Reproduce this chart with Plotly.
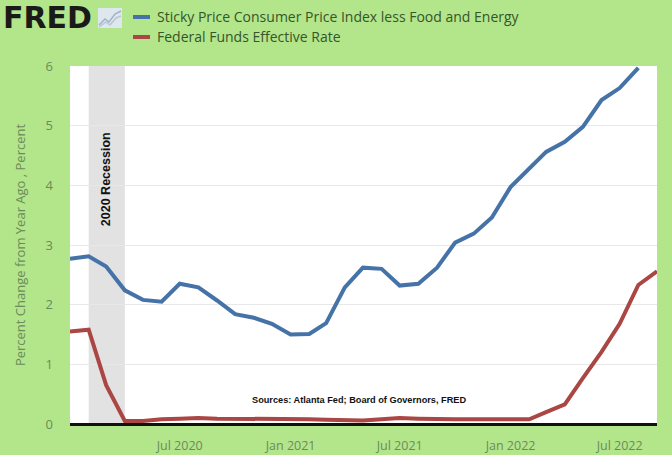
import plotly.graph_objects as go

months = ["2020-01-01","2020-02-01","2020-03-01","2020-04-01","2020-05-01","2020-06-01",
          "2020-07-01","2020-08-01","2020-09-01","2020-10-01","2020-11-01","2020-12-01",
          "2021-01-01","2021-02-01","2021-03-01","2021-04-01","2021-05-01","2021-06-01",
          "2021-07-01","2021-08-01","2021-09-01","2021-10-01","2021-11-01","2021-12-01",
          "2022-01-01","2022-02-01","2022-03-01","2022-04-01","2022-05-01","2022-06-01",
          "2022-07-01","2022-08-01","2022-09-01"]

sticky_cpi = [2.77, 2.81, 2.64, 2.24, 2.08, 2.05, 2.35, 2.29, 2.07, 1.84, 1.78, 1.68,
              1.50, 1.51, 1.69, 2.29, 2.62, 2.60, 2.32, 2.35, 2.62, 3.04, 3.19, 3.46,
              3.97, 4.28, 4.56, 4.73, 4.98, 5.43, 5.63, 5.97]

fed_funds = [1.55, 1.58, 0.65, 0.05, 0.05, 0.08, 0.09, 0.10, 0.09, 0.09, 0.09, 0.09,
             0.09, 0.08, 0.07, 0.07, 0.06, 0.08, 0.10, 0.09, 0.08, 0.08, 0.08, 0.08,
             0.08, 0.08, 0.20, 0.33, 0.77, 1.21, 1.68, 2.33, 2.56]

tick_vals = ["2020-07-01", "2021-01-01", "2021-07-01", "2022-01-01", "2022-07-01"]
tick_text = ["Jul 2020", "Jan 2021", "Jul 2021", "Jan 2022", "Jul 2022"]

recession = ("2020-02-01", "2020-04-01")

series_names = ["Sticky Price Consumer Price Index less Food and Energy",
                "Federal Funds Effective Rate"]
series_colors = ["#4572a7", "#aa4643"]

W, H = 672, 455
L, R, T, B = 70, 15, 66, 31
PW, PH = W - L - R, H - T - B

def px(x):
    return (x - L) / PW

def py(y):
    return (H - B - y) / PH

BG = "#b3e58b"
TICK = "#6a8c5a"

fig = go.Figure()
fig.add_trace(go.Scatter(x=months[:len(sticky_cpi)], y=sticky_cpi, mode="lines",
                         line=dict(color=series_colors[0], width=4), name=series_names[0]))
fig.add_trace(go.Scatter(x=months, y=fed_funds, mode="lines",
                         line=dict(color=series_colors[1], width=4), name=series_names[1]))

shapes = [dict(type="rect", xref="x", yref="paper", x0=recession[0], x1=recession[1],
               y0=0, y1=1, fillcolor="#e2e2e2", line=dict(width=0), layer="below")]
annotations = [
    dict(text="<b>2020 Recession</b>", textangle=-90, xref="x", yref="paper",
         x="2020-03-01", y=py(179), xanchor="center", yanchor="middle", showarrow=False,
         font=dict(family="Liberation Sans", size=12.5, color="#111111")),
    dict(text="<b>Sources: Atlanta Fed; Board of Governors, FRED</b>", xref="paper", yref="paper",
         x=px(359), y=py(400), xanchor="center", yanchor="middle", showarrow=False,
         font=dict(family="Liberation Sans", size=9.2, color="#111111")),
    dict(text="<b>FRED</b>", xref="paper", yref="paper", x=px(1), y=py(18), xanchor="left",
         yanchor="middle", showarrow=False,
         font=dict(family="DejaVu Sans", size=30, color="#1a1a1a")),
]
# legend
for i, (nm, col) in enumerate(zip(series_names, series_colors)):
    yy = 17 + 20 * i
    shapes.append(dict(type="line", xref="paper", yref="paper", x0=px(133), x1=px(150),
                       y0=py(yy), y1=py(yy), line=dict(color=col, width=4)))
    annotations.append(dict(text=nm, xref="paper", yref="paper", x=px(155), y=py(yy),
                            xanchor="left", yanchor="middle", showarrow=False,
                            font=dict(family="Open Sans", size=14, color="#35552a")))
# logo icon
shapes.append(dict(type="rect", xref="paper", yref="paper", x0=px(98), x1=px(122),
                   y0=py(28), y1=py(8), fillcolor="#dfe7ee", line=dict(width=0)))
shapes.append(dict(type="path", xref="paper", yref="paper",
                   path=f"M {px(99)},{py(25)} L {px(105)},{py(19)} L {px(109)},{py(22)} L {px(115)},{py(14)} L {px(121)},{py(11)}",
                   line=dict(color="#9fb3c8", width=1.5)))
shapes.append(dict(type="path", xref="paper", yref="paper",
                   path=f"M {px(99)},{py(27)} L {px(106)},{py(22)} L {px(110)},{py(25)} L {px(116)},{py(18)} L {px(121)},{py(16)}",
                   line=dict(color="#b8c6d6", width=1.5)))

fig.update_layout(
    width=W, height=H,
    margin=dict(l=L, r=R, t=T, b=B),
    paper_bgcolor=BG, plot_bgcolor="white",
    showlegend=False,
    shapes=shapes, annotations=annotations,
    font=dict(family="Open Sans", color=TICK),
    xaxis=dict(range=[months[0], months[-1]], tickvals=tick_vals, ticktext=tick_text,
               showgrid=False, zeroline=False, showline=False, ticks="",
               tickfont=dict(size=12.5, color=TICK), ticklabelstandoff=12, automargin=False),
    yaxis=dict(range=[0, 6], tickvals=[0, 1, 2, 3, 4, 5, 6], showgrid=True,
               gridcolor="#e8e8e8", gridwidth=1, zeroline=True, zerolinecolor="#111111",
               zerolinewidth=2.5, ticks="", tickfont=dict(size=13, color=TICK),
               ticklabelstandoff=16, automargin=False,
               title=dict(text="Percent Change from Year Ago , Percent",
                          font=dict(size=13, color=TICK), standoff=17)),
)

fig.write_html("out.html", config={"displayModeBar": False},
               post_script="document.body.style.margin='0';")
